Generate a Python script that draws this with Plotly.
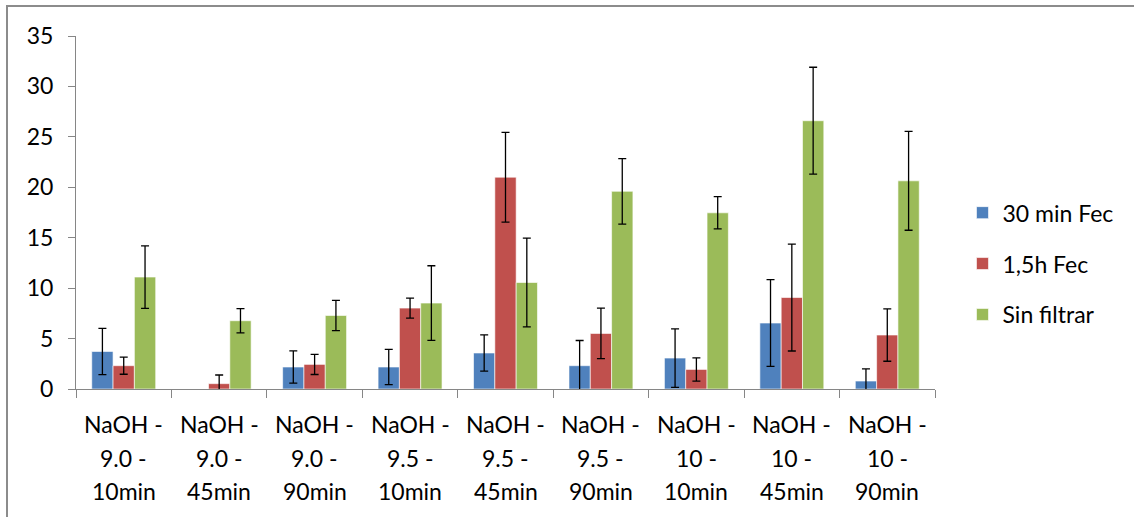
import plotly.graph_objects as go

categories = ["NaOH - 9.0 - 10min", "NaOH - 9.0 - 45min", "NaOH - 9.0 - 90min",
              "NaOH - 9.5 - 10min", "NaOH - 9.5 - 45min", "NaOH - 9.5 - 90min",
              "NaOH - 10 - 10min", "NaOH - 10 - 45min", "NaOH - 10 - 90min"]
label_lines = [["NaOH -", "9.0 -", "10min"], ["NaOH -", "9.0 -", "45min"], ["NaOH -", "9.0 -", "90min"],
               ["NaOH -", "9.5 -", "10min"], ["NaOH -", "9.5 -", "45min"], ["NaOH -", "9.5 -", "90min"],
               ["NaOH -", "10 -", "10min"], ["NaOH -", "10 -", "45min"], ["NaOH -", "10 -", "90min"]]

series_names = ["30 min Fec", "1,5h Fec", "Sin filtrar"]
fec30 = [3.72, None, 2.18, 2.18, 3.57, 2.31, 3.07, 6.54, 0.79]
fec30_err = [2.3, None, 1.6, 1.75, 1.8, 2.5, 2.9, 4.3, 1.2]
fec15h = [2.31, 0.53, 2.44, 8.02, 21.0, 5.51, 1.94, 9.07, 5.35]
fec15h_err = [0.85, 0.86, 1.0, 1.0, 4.45, 2.5, 1.15, 5.3, 2.6]
sinfil = [11.1, 6.77, 7.29, 8.52, 10.56, 19.6, 17.47, 26.6, 20.64]
sinfil_err = [3.1, 1.2, 1.5, 3.7, 4.4, 3.25, 1.6, 5.3, 4.9]

colors = ["#4F81BD", "#C0504D", "#9BBB59"]
font_family = "Lato, 'Open Sans', sans-serif"
FS = 23

fig = go.Figure()
for i, (name, vals, errs) in enumerate(zip(series_names, [fec30, fec15h, sinfil],
                                           [fec30_err, fec15h_err, sinfil_err])):
    fig.add_trace(go.Bar(
        x=categories, y=vals, name=name, legendgroup=name,
        marker=dict(color=colors[i], line=dict(color="rgba(255,255,255,0.6)", width=1)),
        error_y=dict(type="data", array=errs, color="black", thickness=1.3, width=4),
    ))

annotations = []
line_ys = [-0.1004, -0.1952, -0.290]
for cat, lines in zip(categories, label_lines):
    for ly, txt in zip(line_ys, lines):
        annotations.append(dict(x=cat, y=ly, xref="x", yref="paper", text=txt,
                                showarrow=False, xanchor="center", yanchor="middle",
                                font=dict(family=font_family, size=FS, color="#000000")))

fig.update_layout(
    width=1134, height=517,
    margin=dict(l=76, r=199, t=36, b=127.5),
    paper_bgcolor="white", plot_bgcolor="white",
    barmode="group", bargap=0.33, bargroupgap=0,
    font=dict(family=font_family, size=FS, color="#000000"),
    showlegend=True,
    legend=dict(x=1.032, y=0.355, xanchor="left", yanchor="middle",
                traceorder="grouped", tracegroupgap=18,
                font=dict(family=font_family, size=FS, color="#000000"),
                bgcolor="rgba(0,0,0,0)"),
    annotations=annotations,
    shapes=[dict(type="rect", xref="paper", yref="paper",
                 x0=(7 - 76) / 859, x1=(1140 - 76) / 859,
                 y0=(389.5 - 525) / 353.5, y1=(389.5 - 6) / 353.5,
                 line=dict(color="#8C8C8C", width=2), fillcolor="rgba(0,0,0,0)", layer="below")],
)
fig.update_xaxes(showticklabels=False, ticks="outside", tickson="boundaries", ticklen=8,
                 tickcolor="#868686", showline=True, linecolor="#868686", linewidth=1,
                 showgrid=False, zeroline=False)
fig.update_yaxes(range=[0, 35], dtick=5, tick0=0, ticks="outside", ticklen=7,
                 tickcolor="#868686", showline=True, linecolor="#868686", linewidth=1,
                 showgrid=False, zeroline=False, ticklabelstandoff=10,
                 tickfont=dict(family=font_family, size=FS, color="#000000"))

fig.write_html("out.html", config={"displayModeBar": False},
               post_script="document.body.style.margin='0';")
